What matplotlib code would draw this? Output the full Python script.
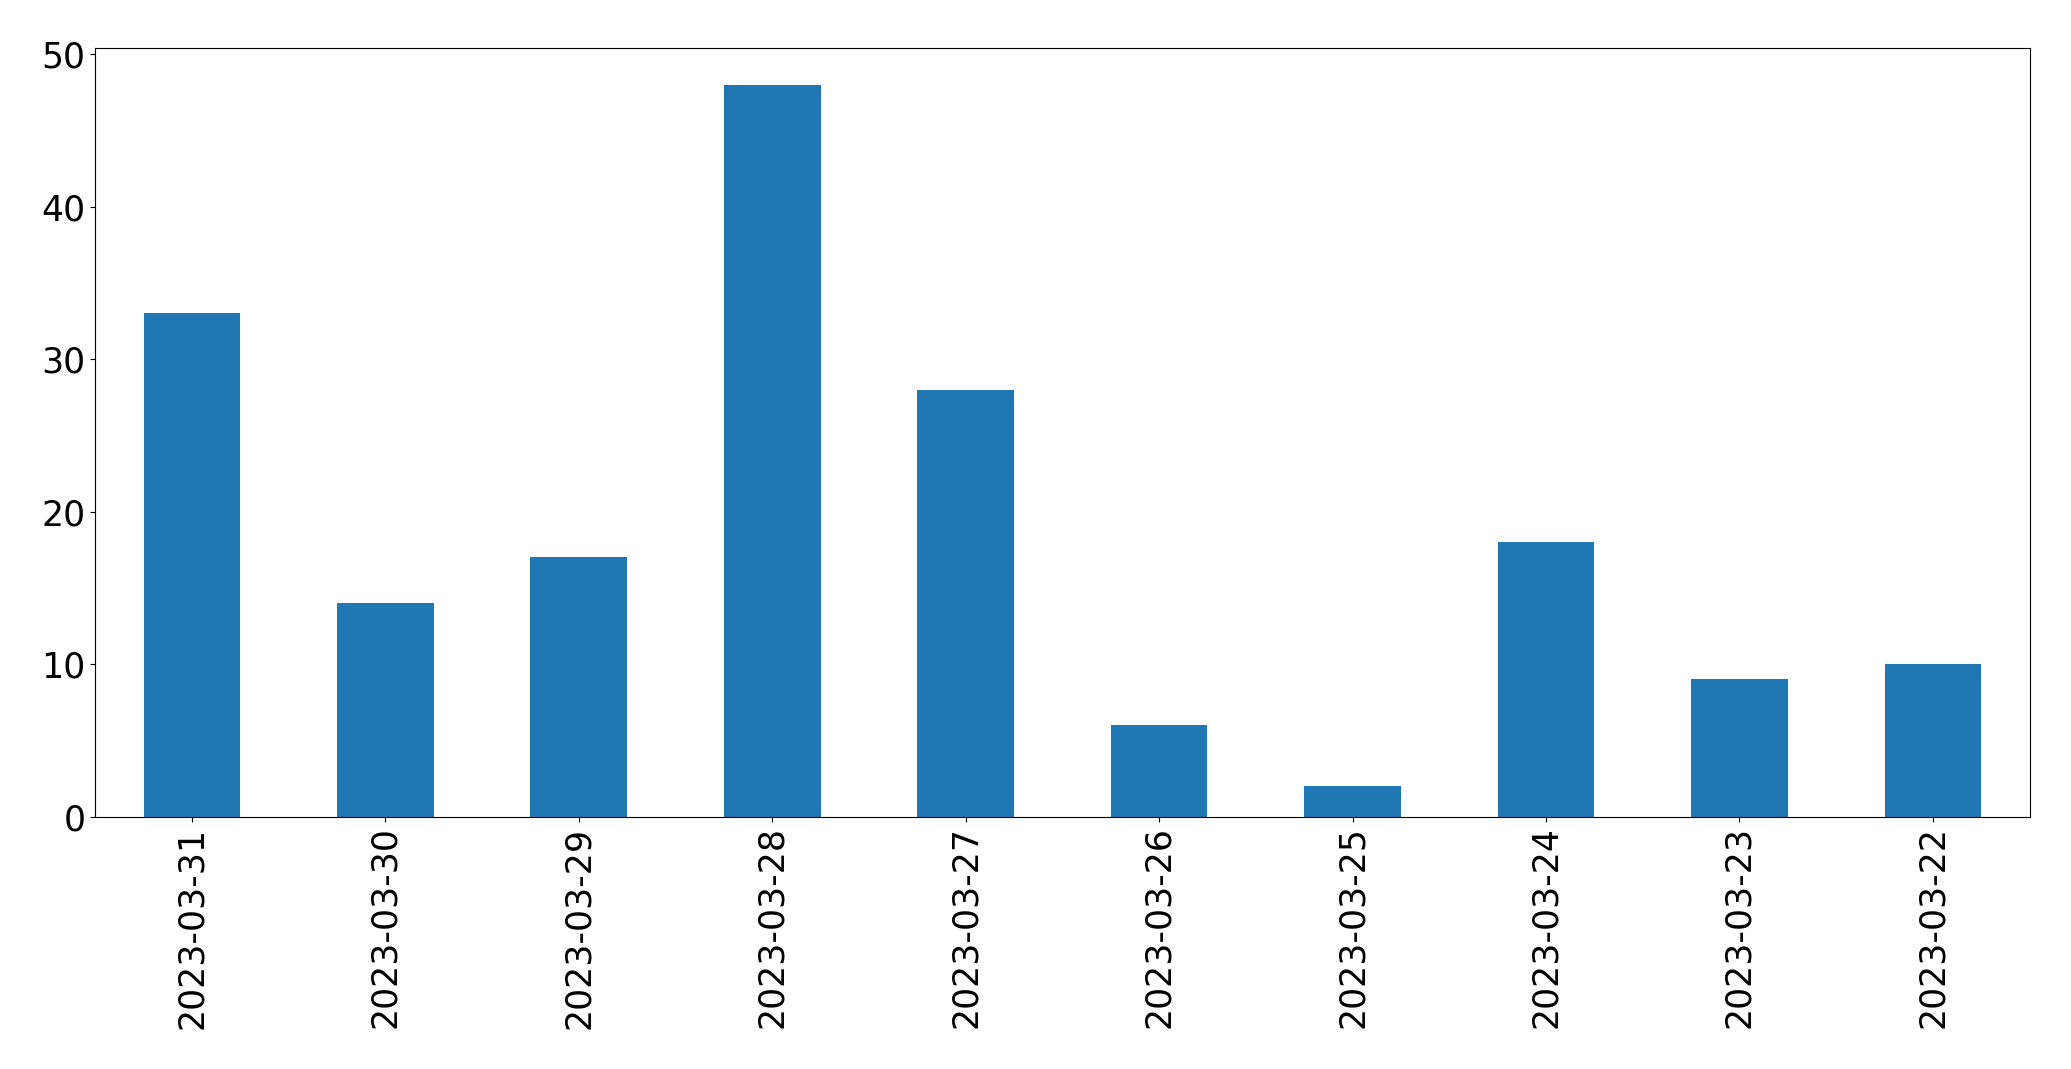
import matplotlib.pyplot as plt
import numpy as np

dates = ["2023-03-31", "2023-03-30", "2023-03-29", "2023-03-28", "2023-03-27",
         "2023-03-26", "2023-03-25", "2023-03-24", "2023-03-23", "2023-03-22"]
counts = [33, 14, 17, 48, 28, 6, 2, 18, 9, 10]

fig, ax = plt.subplots(figsize=(20.71, 10.69), dpi=100)
fig.subplots_adjust(left=0.046, right=0.980, top=0.955, bottom=0.236)

x = np.arange(len(dates))
ax.bar(x, counts, width=0.5, color="#1f77b4")
ax.set_xlim(-0.5, len(dates) - 0.5)
ax.set_ylim(0, max(counts) * 1.05)
ax.set_xticks(x)
ax.set_xticklabels(dates, rotation=90)
ax.tick_params(labelsize=25)

plt.savefig("out.png")
